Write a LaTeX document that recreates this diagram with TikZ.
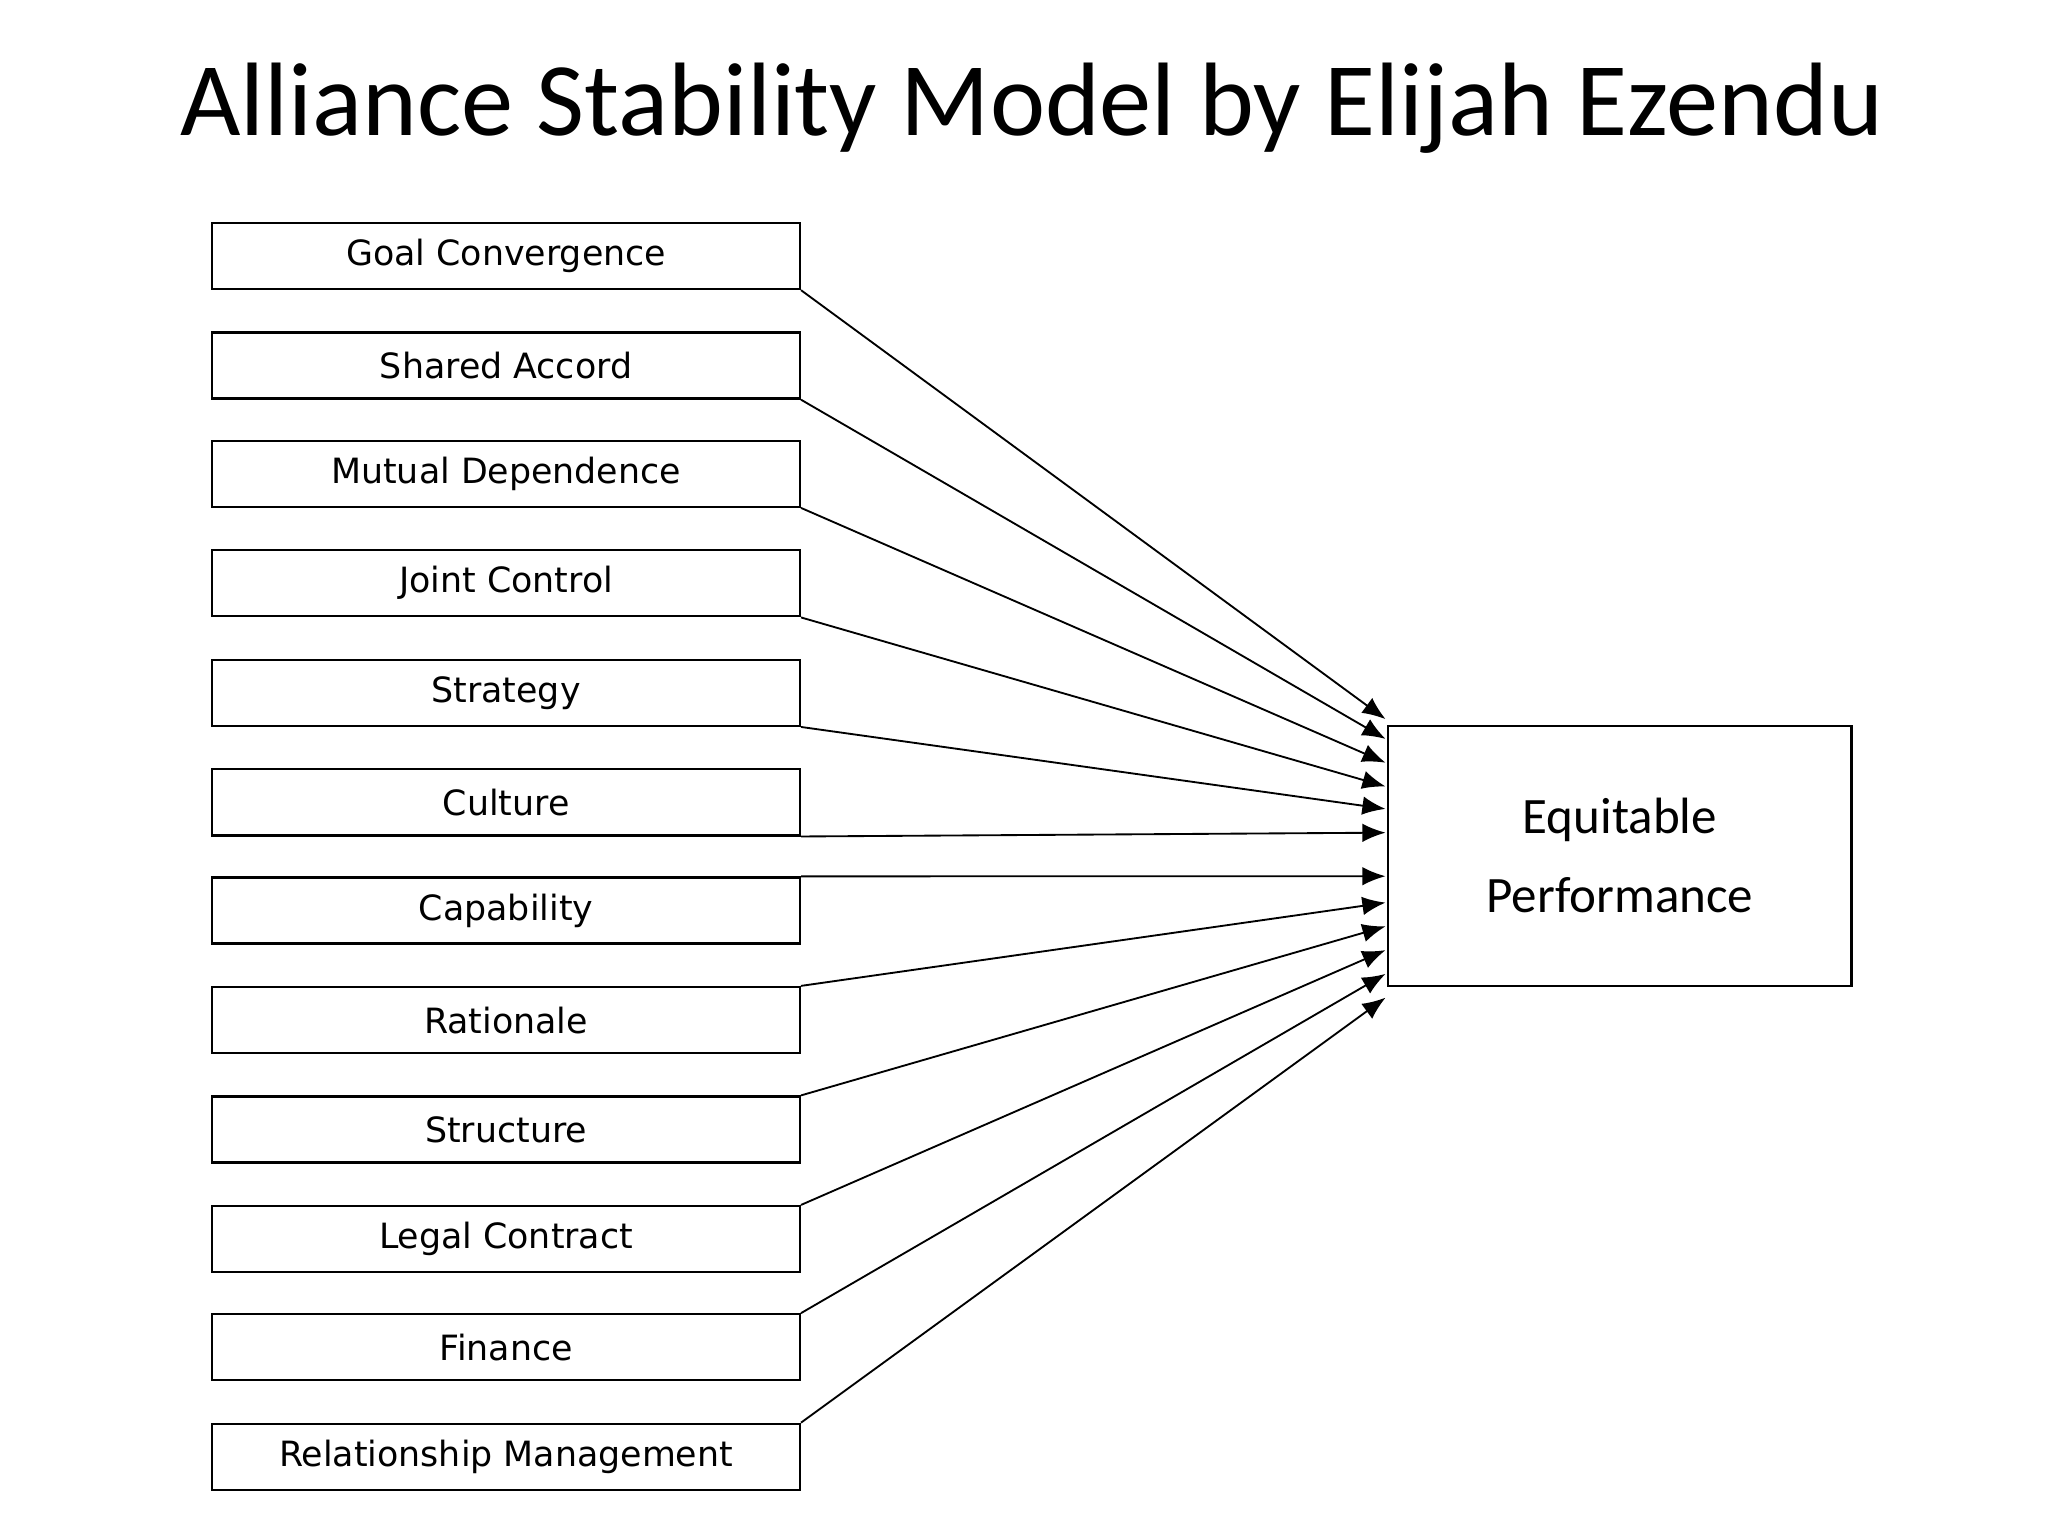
\documentclass[tikz,border=0pt]{standalone}
\usepackage{fontspec}
\setmainfont{Carlito}
\newfontfamily\boxfont{DejaVu Sans}
\usetikzlibrary{arrows.meta}
\begin{document}
\begin{tikzpicture}[x=0.01cm,y=-0.01cm,
  fbox/.style={draw,line width=0.5pt,minimum width=4.45cm,minimum height=0.5cm,inner sep=0pt,font=\boxfont\fontsize{7.5}{9}\selectfont},
  conn/.style={line width=0.4pt,-{Latex[length=5pt,width=4pt]}}]
\useasboundingbox (0,0) rectangle (1552,1164);
\node[font=\fontsize{22.5}{26}\selectfont] (title) at (782,82) {Alliance Stability Model by Elijah Ezendu};
\foreach \n/\t/\y in {a/Goal Convergence/169,b/Shared Accord/252,c/Mutual Dependence/334,d/Joint Control/417,e/Strategy/500,f/Culture/583,g/Capability/665,h/Rationale/748,i/Structure/831,j/Legal Contract/914,k/Finance/996,l/Relationship Management/1079}
  \node[fbox] (\n) at (383.5,\y+25) {\t};
\node[draw,line width=0.5pt,minimum width=3.51cm,minimum height=1.97cm,align=center,font=\fontsize{11}{15}\selectfont] (ep) at (1227.5,648.5) {Equitable\\[2pt]Performance};
\foreach \n/\y in {a/545,b/560,c/578,d/596,e/613,f/631}{
  \coordinate (t\n) at (1050,\y);
  \draw[conn] (\n.south east) -- (t\n);}
\foreach \n/\y in {g/664,h/684,i/702,j/720,k/738,l/756}{
  \coordinate (t\n) at (1050,\y);
  \draw[conn] (\n.north east) -- (t\n);}
\draw (f.south east) -- (f.south west);
\end{tikzpicture}
\end{document}
